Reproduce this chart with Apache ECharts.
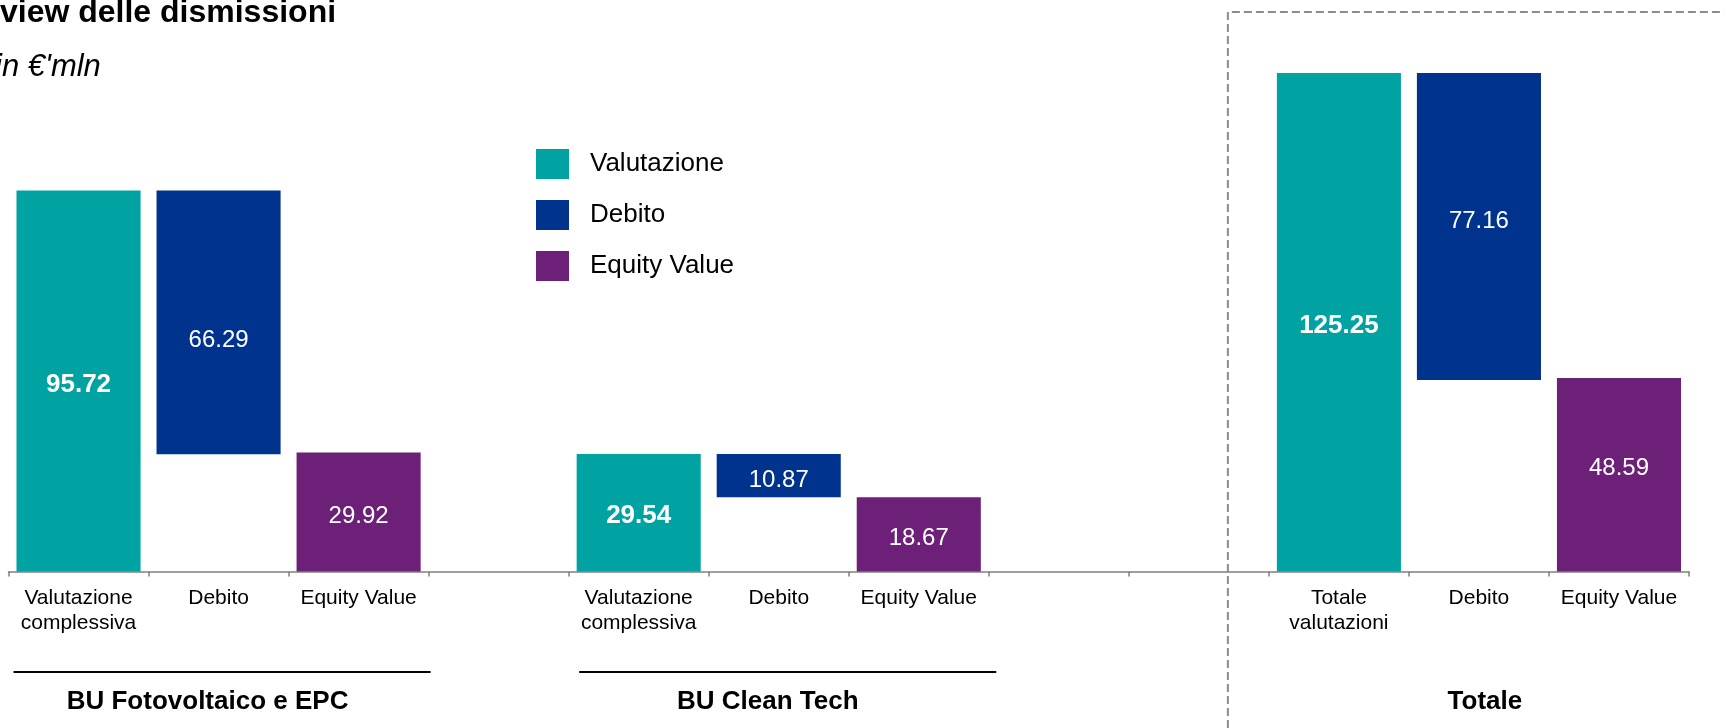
<!DOCTYPE html>
<html>
<head>
<meta charset="utf-8">
<script src="https://cdn.jsdelivr.net/npm/echarts@6/dist/echarts.min.js"></script>
<style>
html,body{margin:0;padding:0;background:#ffffff;}
#chart{width:1724px;height:728px;}
</style>
</head>
<body>
<div id="chart"></div>
<script>
// ---- Data ----
const categories = [
  'Valutazione\ncomplessiva', 'Debito', 'Equity Value', '',
  'Valutazione\ncomplessiva', 'Debito', 'Equity Value', '', '',
  'Totale\nvalutazioni', 'Debito', 'Equity Value'
];
const valutazione = [95.72, null, null, null, 29.54, null, null, null, null, 125.25, null, null];
const debito      = [null, 66.29, null, null, null, 10.87, null, null, null, null, 77.16, null];
const equityValue = [null, null, 29.92, null, null, null, 18.67, null, null, null, null, 48.59];
const seriesNames = ['Valutazione', 'Debito', 'Equity Value'];
const groupNames  = ['BU Fotovoltaico e EPC', 'BU Clean Tech', 'Totale'];
const groupRanges = [[0, 2], [4, 6], [9, 11]];
const titleText    = 'Overview delle dismissioni';
const subtitleText = "in \u20AC'mln";

// ---- Build ----
const FONT = '"Liberation Sans", Arial, Helvetica, sans-serif';
const C_TEAL = '#00A3A1', C_NAVY = '#00338D', C_PURPLE = '#6D2077';

// vertical nudges of the value labels inside the bars (layout only, by category index)
const labelNudge = {0: 3.5, 1: 18, 2: 4.5, 4: 3.5, 5: 5, 6: 4.5, 9: 4, 10: -5, 11: -6};

// invisible base under each floating Debito bar: the valuation it is taken from minus the debt
const debitoBase = debito.map((d, i) => (d == null ? null : +(valutazione[i - 1] - d).toFixed(2)));

const fmt = p => (p.value == null ? '' : Number(p.value).toFixed(2));
const withNudge = arr => arr.map((v, i) => (v == null ? null :
  {value: v, label: {offset: [0, labelNudge[i] || 0]}}));

const chart = echarts.init(document.getElementById('chart'), null, {renderer: 'canvas'});

const option = {
  animation: false,
  backgroundColor: '#ffffff',
  textStyle: {fontFamily: FONT},
  grid: {left: 8.5, right: 35, top: 54.1, bottom: 156.5, containLabel: false},
  legend: {
    orient: 'vertical',
    left: 536, top: 149,
    padding: 0,
    itemWidth: 33, itemHeight: 30, itemGap: 21,
    icon: 'rect',
    data: seriesNames,
    selectedMode: false,
    textStyle: {fontFamily: FONT, fontSize: 26, color: '#000000', padding: [0, 0, 0, 16]}
  },
  xAxis: {
    type: 'category',
    data: categories,
    boundaryGap: true,
    axisLine: {show: true, lineStyle: {color: '#808080', width: 1.5}},
    axisTick: {show: true, interval: 0, length: 5, alignWithLabel: false, lineStyle: {color: '#808080', width: 1.5}},
    axisLabel: {interval: 0, fontFamily: FONT, fontSize: 21, lineHeight: 25, color: '#000000', margin: 14},
    splitLine: {show: false}
  },
  yAxis: {
    type: 'value', min: 0, max: 130, show: false,
    splitLine: {show: false}
  },
  series: [
    {
      name: 'base', type: 'bar', stack: 'w', data: debitoBase,
      barCategoryGap: '11.4%',
      itemStyle: {color: 'rgba(0,0,0,0)'}, emphasis: {disabled: true},
      label: {show: false}, silent: true
    },
    {
      name: seriesNames[0], type: 'bar', stack: 'w', data: withNudge(valutazione),
      barCategoryGap: '11.4%',
      itemStyle: {color: C_TEAL},
      label: {show: true, position: 'inside', color: '#ffffff', fontFamily: FONT, fontSize: 26, fontWeight: 'bold', formatter: fmt}
    },
    {
      name: seriesNames[1], type: 'bar', stack: 'w', data: withNudge(debito),
      barCategoryGap: '11.4%',
      itemStyle: {color: C_NAVY},
      label: {show: true, position: 'inside', color: '#ffffff', fontFamily: FONT, fontSize: 24, formatter: fmt}
    },
    {
      name: seriesNames[2], type: 'bar', stack: 'w', data: withNudge(equityValue),
      barCategoryGap: '11.4%',
      itemStyle: {color: C_PURPLE},
      label: {show: true, position: 'inside', color: '#ffffff', fontFamily: FONT, fontSize: 24, formatter: fmt}
    }
  ]
};
chart.setOption(option);

// ---- Annotations placed from the axis scale ----
const px = i => chart.convertToPixel({xAxisIndex: 0}, i);
const half = (px(1) - px(0)) / 2;
const H = 728, W = 1724;
const graphics = [];

// title / subtitle (clipped at the left edge as in the source slide)
graphics.push({type: 'text', x: -73, y: 13.5, silent: true,
  style: {text: titleText, font: 'bold 32px ' + FONT, fill: '#000000', verticalAlign: 'middle', align: 'left'}});
graphics.push({type: 'text', x: -5, y: 67.5, silent: true,
  style: {text: subtitleText, font: 'italic 31px ' + FONT, fill: '#000000', verticalAlign: 'middle', align: 'left'}});

// group labels and underline rules
groupRanges.forEach((r, g) => {
  const mid = px(Math.round((r[0] + r[1]) / 2));
  if (g < 2) {
    const shift = g === 1 ? 5.5 : 0;
    graphics.push({type: 'line', silent: true,
      shape: {x1: px(r[0]) - half + 5 + shift, y1: 672, x2: px(r[1]) + half + 2 + shift, y2: 672},
      style: {stroke: '#000000', lineWidth: 2}});
  }
  graphics.push({type: 'text', x: mid + (g < 2 ? -11 : 6), y: 702, silent: true,
    style: {text: groupNames[g], font: 'bold 26px ' + FONT, fill: '#000000', align: 'center', verticalAlign: 'middle'}});
});

// dashed frame around the totals
const xFrame = px(9) - half - 41;
graphics.push({type: 'polyline', silent: true,
  shape: {points: [[xFrame, H], [xFrame, 12], [W, 12]]},
  style: {stroke: '#8c8c8c', lineWidth: 2, lineDash: [8, 4], fill: null}});

chart.setOption({graphic: graphics});
</script>
</body>
</html>
